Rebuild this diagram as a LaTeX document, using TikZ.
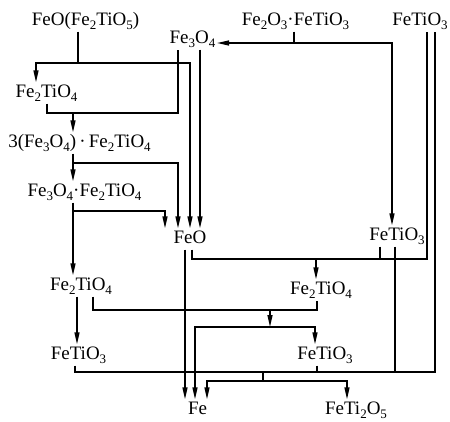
\documentclass[tikz,border=0pt]{standalone}
\usepackage{fontspec}
\setmainfont{Liberation Serif}
\usetikzlibrary{arrows.meta}
\newcommand{\lo}[1]{\raisebox{-4.5pt}{\fontsize{13}{13}\selectfont #1}}

\begin{document}
\begin{tikzpicture}
[
    x=1pt, y=-1pt,
    spec/.style={anchor=base, inner sep=1.5pt, text height=13pt, text depth=5pt,
        font=\fontsize{19}{22}\selectfont},
    link/.style={line width=1.4pt},
    arr/.style={link, -{Triangle[length=12pt,width=5pt]}}
]
    \useasboundingbox (0,0) rectangle (450,421);

    % species
    \node [spec] (src) at (85.5,25) {FeO(Fe\lo{2}TiO\lo{5})};
    \node [spec] (e) at (295.5,25) {Fe\lo{2}O\lo{3}\textperiodcentered FeTiO\lo{3}};
    \node [spec] (g) at (420,25) {FeTiO\lo{3}};
    \node [spec] (m) at (192.5,43) {Fe\lo{3}O\lo{4}};
    \node [spec] (a) at (46.5,97) {Fe\lo{2}TiO\lo{4}};
    \node [spec] (b) at (79.5,147) {3(Fe\lo{3}O\lo{4})\,\textperiodcentered\,Fe\lo{2}TiO\lo{4}};
    \node [spec] (c) at (84.5,196) {Fe\lo{3}O\lo{4}\textperiodcentered Fe\lo{2}TiO\lo{4}};
    \node [spec] (feo) at (190,243) {FeO};
    \node [spec] (f) at (397,240) {FeTiO\lo{3}};
    \node [spec] (d) at (81,290) {Fe\lo{2}TiO\lo{4}};
    \node [spec] (h) at (321,294) {Fe\lo{2}TiO\lo{4}};
    \node [spec] (k) at (78.5,359) {FeTiO\lo{3}};
    \node [spec] (l) at (325,359) {FeTiO\lo{3}};
    \node [spec] (fe) at (197.5,414) {Fe};
    \node [spec] (p) at (356,414) {FeTi\lo{2}O\lo{5}};

    % junctions
    \coordinate (s1) at (78,63);
    \coordinate (s2) at (73,113);
    \coordinate (s3) at (73,163);
    \coordinate (s4) at (73,211);
    \coordinate (s5) at (294,43);
    \coordinate (s6) at (316,259);
    \coordinate (s7) at (270,310);
    \coordinate (s8) at (270,327);
    \coordinate (s9) at (263,372);
    \coordinate (s10) at (263,381);

    % FeO(Fe2TiO5)
    \draw [link] (src.south -| s1) -- (s1);
    \draw [arr] (s1) -| (a.north -| 36,0);
    \draw [arr] (s1) -| (feo.north -| 190,0);

    % Fe2TiO4 + Fe3O4
    \draw [link] (a.south -| 47,0) |- (s2) -| (m.south -| 178,0);
    \draw [arr] (s2) -- (b.north -| s2);
    \draw [arr] (m.south -| 200,0) -- (feo.north -| 200,0);

    % 3(Fe3O4).Fe2TiO4
    \draw [link] (b.south -| s3) -- (s3);
    \draw [arr] (s3) -- (c.north -| s3);
    \draw [arr] (s3) -| (feo.north -| 178,0);

    % Fe3O4.Fe2TiO4
    \draw [link] (c.south -| s4) -- (s4);
    \draw [arr] (s4) -| (feo.north -| 165,0);
    \draw [arr] (s4) -- (d.north -| s4);

    % Fe2O3.FeTiO3
    \draw [link] (e.south -| s5) -- (s5);
    \draw [arr] (s5) -- (m.east |- s5);
    \draw [arr] (s5) -| (f.north -| 392,0);

    % FeO + FeTiO3
    \draw [link] (feo.south -| 192,0) |- (s6) -| (g.south -| 427,0);
    \draw [link] (f.south -| 380,0) -- (s6 -| 380,0);
    \draw [arr] (s6) -- (h.north -| s6);

    % Fe2TiO4
    \draw [arr] (d.south -| 77,0) -- (k.north -| 77,0);
    \draw [link] (d.south -| 93,0) |- (s7) -| (h.south -| 317,0);
    \draw [arr] (s7) -- (s8);
    \draw [arr] (s8) -| (fe.north -| 195,0);
    \draw [arr] (s8) -| (l.north -| 315,0);

    % FeTiO3
    \draw [link] (k.south -| 75,0) |- (s9) -| (g.south -| 435,0);
    \draw [link] (l.south -| 317,0) -- (s9 -| 317,0);
    \draw [link] (f.south -| 395,0) -- (s9 -| 395,0);
    \draw [link] (s9) -- (s10);
    \draw [arr] (s10) -| (fe.north -| 207,0);
    \draw [arr] (s10) -| (p.north -| 347,0);
    \draw [arr] (feo.south -| 185,0) -- (fe.north -| 185,0);
\end{tikzpicture}
\end{document}
